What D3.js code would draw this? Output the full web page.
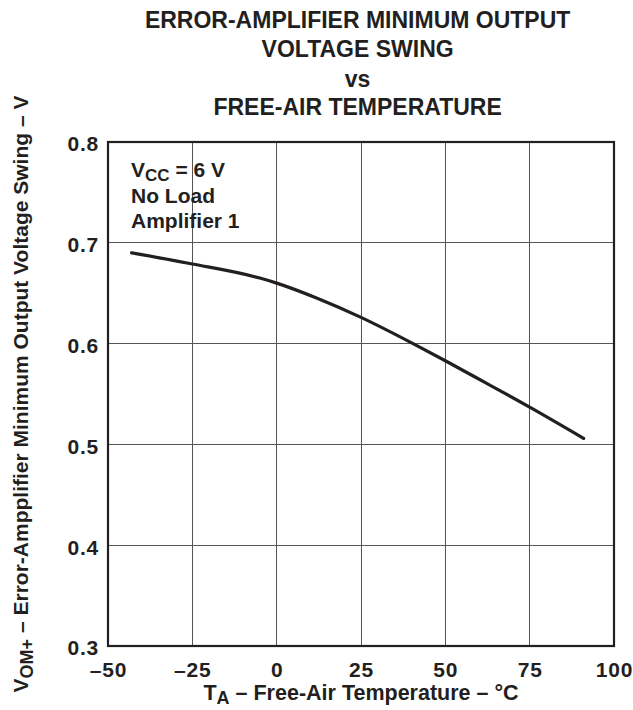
<!DOCTYPE html>
<html>
<head>
<meta charset="utf-8">
<script src="https://cdn.jsdelivr.net/npm/d3@7/dist/d3.min.js"></script>
<style>
  html, body { margin: 0; padding: 0; background: #fff; }
  svg { display: block; }
  text { font-family: "Liberation Sans", Arial, Helvetica, sans-serif; font-weight: bold; fill: #231f20; }
</style>
</head>
<body>
<script>
// ---- data ----
const titleLines = ["ERROR-AMPLIFIER MINIMUM OUTPUT", "VOLTAGE SWING", "vs", "FREE-AIR TEMPERATURE"];
const xTicks = [-50, -25, 0, 25, 50, 75, 100];
const xTickLabels = ["\u201350", "\u201325", "0", "25", "50", "75", "100"];
const yTicks = [0.3, 0.4, 0.5, 0.6, 0.7, 0.8];
const yTickLabels = ["0.3", "0.4", "0.5", "0.6", "0.7", "0.8"];
const temperature = [-43, -25, -5, 0, 12, 25, 41, 50, 62, 75, 91];
const vomSwing   = [0.690, 0.679, 0.665, 0.660, 0.645, 0.626, 0.599, 0.583, 0.561, 0.537, 0.506];
const annotation = ["No Load", "Amplifier 1"];

// ---- layout ----
const W = 633, H = 710;
const m = { left: 108, right: 19, top: 142, bottom: 64 };
const pw = W - m.left - m.right, ph = H - m.top - m.bottom;

const svg = d3.select("body").append("svg").attr("width", W).attr("height", H);

const x = d3.scaleLinear().domain([-50, 100]).range([m.left, m.left + pw]);
const y = d3.scaleLinear().domain([0.3, 0.8]).range([m.top + ph, m.top]);

// title
svg.append("g").selectAll("text").data(titleLines).join("text")
  .attr("x", x(24)).attr("y", (d, i) => [28, 57, 87, 115][i])
  .attr("text-anchor", "middle").attr("font-size", 23).text(d => d);

// grid
const grid = svg.append("g").attr("stroke", "#555").attr("stroke-width", 1).attr("shape-rendering", "crispEdges");
grid.selectAll("line.v").data(xTicks.slice(1, -1)).join("line").attr("class", "v")
  .attr("x1", d => x(d)).attr("x2", d => x(d)).attr("y1", y(0.8)).attr("y2", y(0.3));
grid.selectAll("line.h").data(yTicks.slice(1, -1)).join("line").attr("class", "h")
  .attr("y1", d => y(d)).attr("y2", d => y(d)).attr("x1", x(-50)).attr("x2", x(100));

// axes (labels only)
const xAxis = svg.append("g").attr("transform", `translate(0,${y(0.3)})`)
  .call(d3.axisBottom(x).tickValues(xTicks).tickSize(0).tickPadding(16)
    .tickFormat((d, i) => xTickLabels[i]));
const yAxis = svg.append("g").attr("transform", `translate(${x(-50)},0)`)
  .call(d3.axisLeft(y).tickValues(yTicks).tickSize(0).tickPadding(9)
    .tickFormat((d, i) => yTickLabels[i]));
[xAxis, yAxis].forEach(a => {
  a.select(".domain").remove();
  a.selectAll("text").attr("font-size", 21).attr("fill", "#231f20")
    .attr("letter-spacing", 0.8)
    .attr("font-family", "'Liberation Sans', Arial, sans-serif").attr("font-weight", "bold");
});
yAxis.selectAll("text").attr("dy", "0.42em");
xAxis.selectAll("text").attr("dy", "0.71em");

// frame
svg.append("rect").attr("x", x(-50)).attr("y", y(0.8))
  .attr("width", x(100) - x(-50)).attr("height", y(0.3) - y(0.8))
  .attr("fill", "none").attr("stroke", "#231f20").attr("stroke-width", 2.2);

// curve
const pts = temperature.map((t, i) => [t, vomSwing[i]]);
svg.append("path").datum(pts)
  .attr("d", d3.line().x(d => x(d[0])).y(d => y(d[1])).curve(d3.curveMonotoneX))
  .attr("fill", "none").attr("stroke", "#231f20").attr("stroke-width", 3.2).attr("stroke-linecap", "round");

// annotation
const ann = svg.append("g").attr("font-size", 21);
const t1 = ann.append("text").attr("x", 131).attr("y", 177);
t1.append("tspan").text("V");
t1.append("tspan").attr("dy", 4).attr("font-size", 17).text("CC");
t1.append("tspan").attr("dy", -4).text(" = 6 V");
ann.selectAll("text.l").data(annotation).join("text").attr("class", "l")
  .attr("x", 131).attr("y", (d, i) => 203 + i * 25).text(d => d);

// y axis title
const yt = svg.append("text").attr("transform", `translate(28,${(y(0.3) + y(0.8)) / 2}) rotate(-90)`)
  .attr("text-anchor", "middle").attr("font-size", 21);
yt.append("tspan").text("V");
yt.append("tspan").attr("dy", 5).attr("font-size", 18).text("OM+");
yt.append("tspan").attr("dy", -5).text(" \u2013 Error-Ampplifier Minimum Output Voltage Swing \u2013 V");

// x axis title
const xt = svg.append("text").attr("x", x(25)).attr("y", 700)
  .attr("text-anchor", "middle").attr("font-size", 21.5);
xt.append("tspan").text("T");
xt.append("tspan").attr("dy", 4).attr("font-size", 18).text("A");
xt.append("tspan").attr("dy", -4).text(" \u2013 Free-Air Temperature \u2013 \u00B0C");
</script>
</body>
</html>
